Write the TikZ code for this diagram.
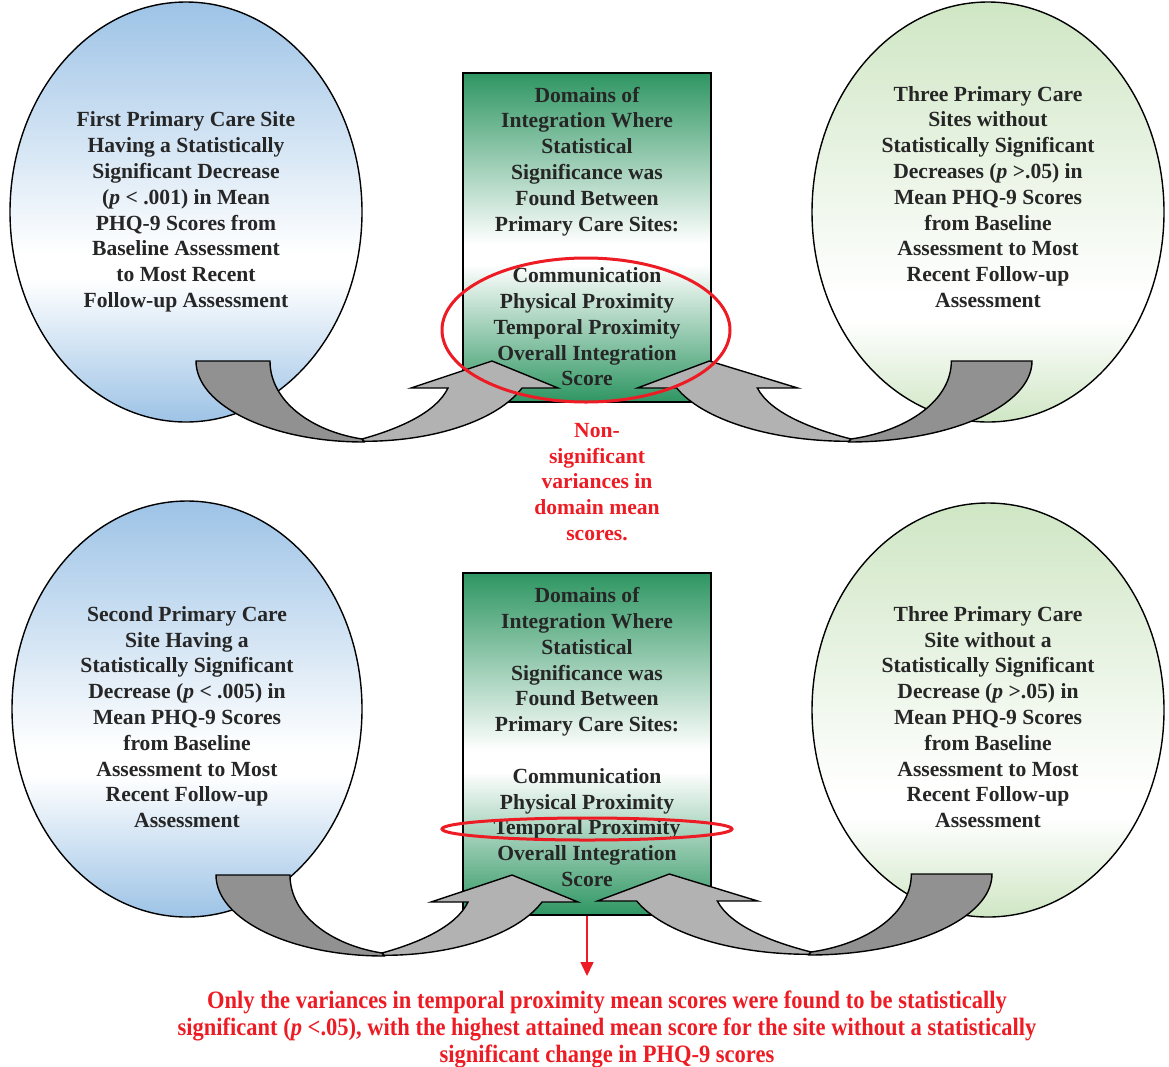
\documentclass[tikz,border=0pt]{standalone}
\usepackage{fontspec}
\setmainfont{Liberation Serif}
\newfontfamily\condfont[FakeStretch=0.9]{Liberation Serif}
\usetikzlibrary{shapes.geometric,arrows.meta}

\definecolor{siteblue}{RGB}{157,195,230}
\definecolor{sitegreen}{RGB}{207,230,196}
\definecolor{boxgreen}{RGB}{46,150,98}
\definecolor{backgray}{RGB}{145,145,145}
\definecolor{frontgray}{RGB}{178,178,178}
\definecolor{notered}{RGB}{237,28,36}
\definecolor{textgray}{RGB}{38,38,38}

\pgfdeclareverticalshading{blueball}{100bp}{color(0bp)=(siteblue); color(25bp)=(siteblue); color(42bp)=(white); color(45bp)=(white); color(75bp)=(siteblue); color(100bp)=(siteblue)}
\pgfdeclareverticalshading{greenball}{100bp}{color(0bp)=(sitegreen); color(25bp)=(sitegreen); color(37bp)=(white); color(40bp)=(white); color(75bp)=(sitegreen); color(100bp)=(sitegreen)}
\pgfdeclareverticalshading{greenbox}{100bp}{color(0bp)=(boxgreen); color(25bp)=(boxgreen); color(46bp)=(white); color(49bp)=(white); color(75bp)=(boxgreen); color(100bp)=(boxgreen)}

\tikzset{
  sitebubble/.style={ellipse, draw, line width=1.4pt, minimum width=352pt, minimum height=420pt, inner sep=0pt},
  domainbox/.style={rectangle, draw, line width=1.4pt, shading=greenbox, minimum width=248pt, inner sep=0pt},
  bigtext/.style={text=textgray, align=center, inner sep=0pt, font=\fontsize{21.6}{25.8}\selectfont\bfseries},
  curvedup/.pic={
    % front band with head
    \draw[fill=frontgray, line width=1.4pt, line join=miter] (166,78) .. controls (202,68) and (240,52) .. (252,27)
      -- (215,27) -- (296,0) -- (362,27) -- (326,27)
      arc[start angle=20, end angle=90, x radius=168, y radius=81] -- cycle;
    % back band
    \draw[fill=backgray, line width=1.4pt] (0,0) arc[start angle=180, end angle=90, x radius=168, y radius=81]
      -- (166,78) .. controls (115,70) and (74,40) .. (74,0) -- cycle;
  }
}

\begin{document}
\begin{tikzpicture}[x=1pt, y=-1pt]
    \useasboundingbox (0,0) rectangle (1169,1066);

    % Sites
    \node[sitebubble, shading=blueball] (first) at (186,212) {};
    \node[sitebubble, shading=greenball] (three) at (988,212) {};
    \node[sitebubble, shading=blueball, minimum width=350pt, minimum height=416pt] (second) at (187,709) {};
    \node[sitebubble, shading=greenball, minimum height=414pt] (threeb) at (988,710) {};

    \node[bigtext] (firsttext) at (186,212) {First Primary Care Site\\Having a Statistically\\Significant Decrease\\(\textit{p} < .001) in Mean\\PHQ-9 Scores from\\Baseline Assessment\\to Most Recent\\Follow-up Assessment};
    \node[bigtext] (threetext) at (988,197) {Three Primary Care\\Sites without\\Statistically Significant\\Decreases (\textit{p} >.05) in\\Mean PHQ-9 Scores\\from Baseline\\Assessment to Most\\Recent Follow-up\\Assessment};
    \node[bigtext] (secondtext) at (187,717) {Second Primary Care\\Site Having a\\Statistically Significant\\Decrease (\textit{p} < .005) in\\Mean PHQ-9 Scores\\from Baseline\\Assessment to Most\\Recent Follow-up\\Assessment};
    \node[bigtext] (threebtext) at (988,717) {Three Primary Care\\Site without a\\Statistically Significant\\Decrease (\textit{p} >.05) in\\Mean PHQ-9 Scores\\from Baseline\\Assessment to Most\\Recent Follow-up\\Assessment};

    % Domains
    \node[domainbox, minimum height=329pt] (domains) at (587,237.5) {};
    \node[domainbox, minimum height=342pt] (domainsb) at (587,744) {};
    \node[bigtext] (domtext) at (587,236.5) {Domains of\\Integration Where\\Statistical\\Significance was\\Found Between\\Primary Care Sites:\\[25.8pt]Communication\\Physical Proximity\\Temporal Proximity\\Overall Integration\\Score};
    \node[bigtext] (domtextb) at (587,737) {Domains of\\Integration Where\\Statistical\\Significance was\\Found Between\\Primary Care Sites:\\[25.8pt]Communication\\Physical Proximity\\Temporal Proximity\\Overall Integration\\Score};

    % Curved arrows
    \pic at (196,361) {curvedup};
    \pic[xscale=-1.09] at (1032,361) {curvedup};
    \pic at (216,875) {curvedup};
    \pic[xscale=-1.09] at (992,874) {curvedup};

    % Notes
    \draw[notered, line width=3pt] (586,330) ellipse [x radius=144, y radius=72];
    \draw[notered, line width=3pt] (587,829) ellipse [x radius=145, y radius=11];
    \node[bigtext, text=notered] (nonsig) at (597,482) {Non-\\significant\\variances in\\domain mean\\scores.};
    \coordinate (noteend) at (587,976);
    \draw[notered, line width=1.5pt, -{Triangle[length=14pt, width=13pt]}] (domainsb.south) -- (noteend);
    \node[text=notered, align=center, inner sep=0pt, font=\fontsize{25}{27}\selectfont\condfont\bfseries] (finding) at (607,1029) {Only the variances in temporal proximity mean scores were found to be statistically\\significant (\textit{p} <.05), with the highest attained mean score for the site without a statistically\\significant change in PHQ-9 scores};
\end{tikzpicture}
\end{document}
